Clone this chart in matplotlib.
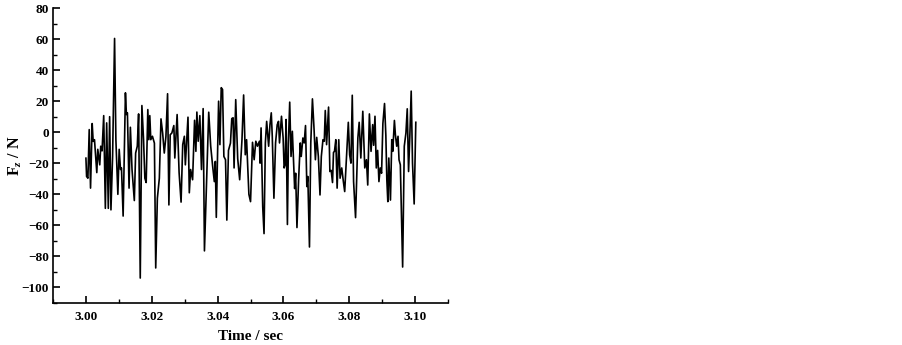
import matplotlib
matplotlib.use('Agg')
import matplotlib.pyplot as plt
from matplotlib.ticker import MultipleLocator

# Datos: tiempo (s) y fuerza Fz (N)
tiempo = [
    3.0000, 3.0002, 3.0006, 3.0010, 3.0014, 3.0019, 3.0022, 3.0026, 3.0033, 3.0036,
    3.0042, 3.0045, 3.0049, 3.0054, 3.0059, 3.0063, 3.0068, 3.0072, 3.0076, 3.0081,
    3.0087, 3.0091, 3.0097, 3.0101, 3.0105, 3.0108, 3.0113, 3.0120, 3.0123, 3.0126,
    3.0131, 3.0135, 3.0140, 3.0147, 3.0151, 3.0156, 3.0160, 3.0165, 3.0170, 3.0175,
    3.0179, 3.0183, 3.0188, 3.0191, 3.0194, 3.0197, 3.0202, 3.0208, 3.0212, 3.0217,
    3.0223, 3.0228, 3.0233, 3.0238, 3.0243, 3.0248, 3.0252, 3.0256, 3.0261, 3.0267,
    3.0270, 3.0277, 3.0283, 3.0289, 3.0294, 3.0299, 3.0302, 3.0310, 3.0314, 3.0318,
    3.0324, 3.0330, 3.0334, 3.0337, 3.0341, 3.0346, 3.0351, 3.0356, 3.0360, 3.0373,
    3.0379, 3.0385, 3.0390, 3.0393, 3.0396, 3.0403, 3.0407, 3.0411, 3.0415, 3.0419,
    3.0424, 3.0428, 3.0433, 3.0439, 3.0443, 3.0447, 3.0450, 3.0455, 3.0461, 3.0467,
    3.0474, 3.0479, 3.0484, 3.0488, 3.0495, 3.0500, 3.0506, 3.0511, 3.0516, 3.0521,
    3.0527, 3.0529, 3.0532, 3.0537, 3.0541, 3.0545, 3.0549, 3.0555, 3.0559, 3.0563,
    3.0566, 3.0571, 3.0576, 3.0581, 3.0585, 3.0588, 3.0594, 3.0599, 3.0602, 3.0605,
    3.0608, 3.0612, 3.0615, 3.0619, 3.0623, 3.0627, 3.0631, 3.0634, 3.0637, 3.0641,
    3.0646, 3.0651, 3.0654, 3.0659, 3.0663, 3.0667, 3.0671, 3.0674, 3.0679, 3.0683,
    3.0688, 3.0693, 3.0697, 3.0701, 3.0706, 3.0711, 3.0715, 3.0720, 3.0724, 3.0727,
    3.0731, 3.0737, 3.0741, 3.0745, 3.0749, 3.0752, 3.0755, 3.0759, 3.0763, 3.0768,
    3.0772, 3.0777, 3.0782, 3.0786, 3.0791, 3.0797, 3.0801, 3.0805, 3.0809, 3.0813,
    3.0819, 3.0822, 3.0826, 3.0830, 3.0835, 3.0841, 3.0847, 3.0852, 3.0856, 3.0861,
    3.0866, 3.0871, 3.0874, 3.0878, 3.0882, 3.0886, 3.0890, 3.0894, 3.0898, 3.0902,
    3.0907, 3.0911, 3.0914, 3.0917, 3.0920, 3.0925, 3.0929, 3.0932, 3.0937, 3.0940,
    3.0944, 3.0948, 3.0951, 3.0955, 3.0962, 3.0967, 3.0972, 3.0976, 3.0980, 3.0984,
    3.0988, 3.0992, 3.0997, 3.1002,
]
fuerza = [
    -16.7, -28.5, -29.6, 1.7, -36.0, 5.6, -5.9, -4.8, -26.0, -11.0,
    -21.0, -9.0, -12.0, 10.7, -49.0, 6.0, -49.0, 10.0, -50.0, -15.6,
    60.4, -4.8, -40.0, -11.0, -24.0, -23.0, -54.0, 25.4, 11.4, 12.5,
    -36.0, 3.2, -24.0, -44.0, -13.4, -9.0, 11.8, -93.9, 17.2, -4.8,
    -29.6, -32.4, 14.6, -4.8, 10.7, -4.8, -2.6, -7.0, -87.4, -42.5,
    -29.6, 8.6, -0.5, -13.4, -2.6, 24.8, -46.8, -1.6, -0.5, 4.3,
    -16.6, 11.4, -26.0, -45.0, -8.0, -2.6, -21.0, 9.7, -39.0, -24.0,
    -30.6, 7.7, -12.3, 13.0, -5.8, 10.7, -24.0, 15.2, -76.4, 12.9,
    -9.0, -22.0, -31.8, -18.8, -54.8, 20.0, -8.0, 28.7, 27.5, -15.6,
    -17.7, -56.6, -11.7, -7.0, 8.8, 9.3, -23.0, 21.0, -17.0, -30.6,
    -4.8, 24.0, -14.5, -4.8, -40.0, -44.7, -6.5, -17.7, -5.8, -9.0,
    -5.8, -19.9, 2.8, -48.0, -65.3, -6.9, 7.0, -9.0, 4.8, 12.5,
    -2.6, -42.5, -6.9, 4.8, 7.0, -6.9, 10.3, -3.7, -23.0, -21.0,
    8.2, -59.4, -6.9, 19.4, -15.6, 0.6, -21.1, -36.3, -26.4, -61.4,
    -30.6, -6.9, -15.6, -3.7, -6.9, 4.3, -35.0, -28.5, -73.9, -6.9,
    21.5, 1.7, -17.7, -3.3, -15.6, -40.4, -15.6, -4.8, -5.8, 14.0,
    -8.0, 16.2, -25.3, -24.6, -32.4, -13.0, -12.3, -4.8, -36.0, -4.8,
    -29.6, -23.0, -31.8, -38.2, -17.7, 6.4, -14.5, -19.9, 23.8, -31.8,
    -55.0, -32.9, -3.7, 6.4, -16.6, 13.5, -23.0, -17.7, -34.0, 11.8,
    -12.3, 4.9, -8.4, 10.3, -23.0, -11.7, -31.8, -23.0, -26.4, 5.6,
    18.5, -2.0, -30.6, -44.7, -16.6, -43.7, -4.8, -12.3, 7.6, -1.6,
    -9.0, -2.6, -17.7, -21.0, -86.8, -9.0, -0.5, 15.1, -25.3, -1.6,
    26.5, -19.9, -46.2, 6.4,
]

plt.rcParams['font.family'] = ['Liberation Serif', 'DejaVu Serif']
plt.rcParams['font.weight'] = 'bold'
plt.rcParams['mathtext.fontset'] = 'custom'
plt.rcParams['mathtext.rm'] = 'Liberation Serif:bold'
plt.rcParams['mathtext.it'] = 'Liberation Serif:italic:bold'

fig = plt.figure(figsize=(9.03, 3.45), dpi=100)
ax = fig.add_axes([0.0587, 0.1217, 0.4375, 0.855])

ax.plot(tiempo, fuerza, color='black', lw=1.2)

ax.set_xlim(2.99, 3.11)
ax.set_ylim(-110, 80)
ax.xaxis.set_major_locator(MultipleLocator(0.02))
ax.xaxis.set_minor_locator(MultipleLocator(0.01))
ax.yaxis.set_major_locator(MultipleLocator(20))
ax.yaxis.set_minor_locator(MultipleLocator(10))
ax.xaxis.set_major_formatter(plt.FormatStrFormatter('%.2f'))

ax.spines['top'].set_visible(False)
ax.spines['right'].set_visible(False)
ax.spines['left'].set_linewidth(1.2)
ax.spines['bottom'].set_linewidth(1.2)
ax.tick_params(which='major', direction='in', length=5, width=1.2, labelsize=9.5)
ax.tick_params(axis='y', which='major', pad=3)
ax.tick_params(axis='x', which='major', pad=6)
ax.tick_params(which='minor', direction='in', length=3, width=1.0)
for lab in ax.get_xticklabels() + ax.get_yticklabels():
    lab.set_fontweight('bold')

ax.set_xlabel('Time / sec', fontsize=11, fontweight='bold', labelpad=5)
ax.set_ylabel(r'F$_{z}$ / N', fontsize=11.5, fontweight='bold')
ax.yaxis.set_label_coords(-0.073, 0.5)

fig.savefig('out.png', dpi=100)
